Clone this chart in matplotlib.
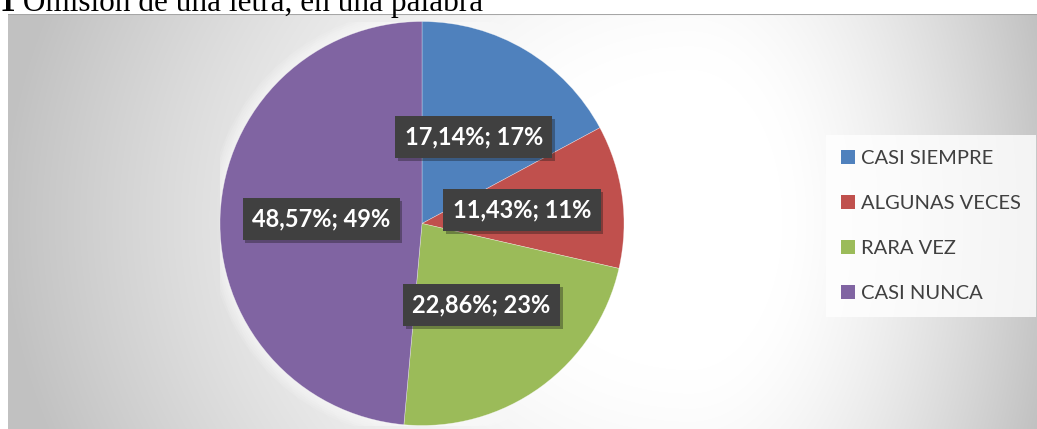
import numpy as np
import matplotlib
matplotlib.use('Agg')
import matplotlib.pyplot as plt
from matplotlib.patches import Patch, Circle
import matplotlib.patheffects as pe

# data
categories = ['CASI SIEMPRE', 'ALGUNAS VECES', 'RARA VEZ', 'CASI NUNCA']
percents = [17.14, 11.43, 22.86, 48.57]
colors = ['#4F81BD', '#C0504D', '#9BBB59', '#8064A2']
title_num = '1'
title_text = ' Omisión de una letra, en una palabra'

W, H = 1037, 429
fig = plt.figure(figsize=(W / 100, H / 100), dpi=100)
fig.patch.set_facecolor('white')

# chart area background (gradient)
x0, y0 = 8, 14
bg = fig.add_axes([x0 / W, 0, (W - x0) / W, (H - y0) / H])
xs = np.arange(x0, W) + 0.5
ys = np.arange(y0, H) + 0.5
X, Y = np.meshgrid(xs, ys)
cx, cy = 690, 220
sx = np.where(X < cx, 690.0, 370.0)
d = np.sqrt(((X - cx) / sx) ** 2 + ((Y - cy) / 600.0) ** 2)
t = np.clip((d - 0.25) / 0.75, 0, 1) ** 1.4
g = (255 - 62 * t) / 255.0
bg.imshow(np.dstack([g, g, g]), aspect='auto', extent=[0, 1, 0, 1], origin='upper')
bg.axhline(1, color='#a6a6a6', lw=1.5)
bg.set_axis_off()

# pie
pcx, pcy, R = 422, 223.5, 202
ax = fig.add_axes([(pcx - R) / W, (H - pcy - R) / H, 2 * R / W, 2 * R / H])
ax.set_axis_off()
for k in range(6):
    ax.add_patch(Circle((0, 0), 1 + 0.01 * (k + 1), color='white', alpha=0.12, lw=0, zorder=0))


def fmt(p):
    s = f'{p:.2f}%; {p:.0f}%'
    return s.replace('.', ',')


wedges, texts, autotexts = ax.pie(percents, colors=colors, startangle=90, counterclock=False,
                                  autopct=fmt, pctdistance=0.5, radius=1, frame=False,
                                  wedgeprops=dict(linewidth=0.4, edgecolor=(1, 1, 1, 0.5)))
ax.set_xlim(-1, 1)
ax.set_ylim(-1, 1)
for w in wedges:
    w.set_zorder(2)
for at in autotexts:
    at.set_color('white')
    at.set_fontsize(17)
    at.set_fontweight('bold')
    at.set_family('Lato')
    at.set_zorder(5)
    at.set_bbox(dict(boxstyle='square,pad=0.4', facecolor='#404040', edgecolor='none'))
    at.get_bbox_patch().set_path_effects([pe.SimplePatchShadow(offset=(2, -2), alpha=0.35),
                                          pe.Normal()])

# legend
handles = [Patch(facecolor=c, edgecolor='none') for c in colors]
leg = fig.legend(handles, categories, loc='upper left',
                 bbox_to_anchor=(826 / W, 1 - 135 / H), frameon=True,
                 prop={'family': 'Lato', 'size': 14.5}, labelcolor='#404040',
                 handlelength=0.7, handleheight=0.7, handletextpad=0.3,
                 labelspacing=1.38, borderpad=0.75, borderaxespad=0, fancybox=False)
leg.get_frame().set_facecolor((1, 1, 1, 0.35))
leg.get_frame().set_edgecolor('none')

# title (clipped at top)
t1 = fig.text(-0.3 / W, 1 - 11 / H, title_num, fontsize=22.5, fontweight='bold',
              family='Liberation Serif', va='baseline', ha='left')
fig.canvas.draw()
bb = t1.get_window_extent()
fig.text(bb.x1 / W, 1 - 11 / H, title_text, fontsize=22.5,
         family='Liberation Serif', va='baseline', ha='left')

fig.savefig('out.png', dpi=100)
